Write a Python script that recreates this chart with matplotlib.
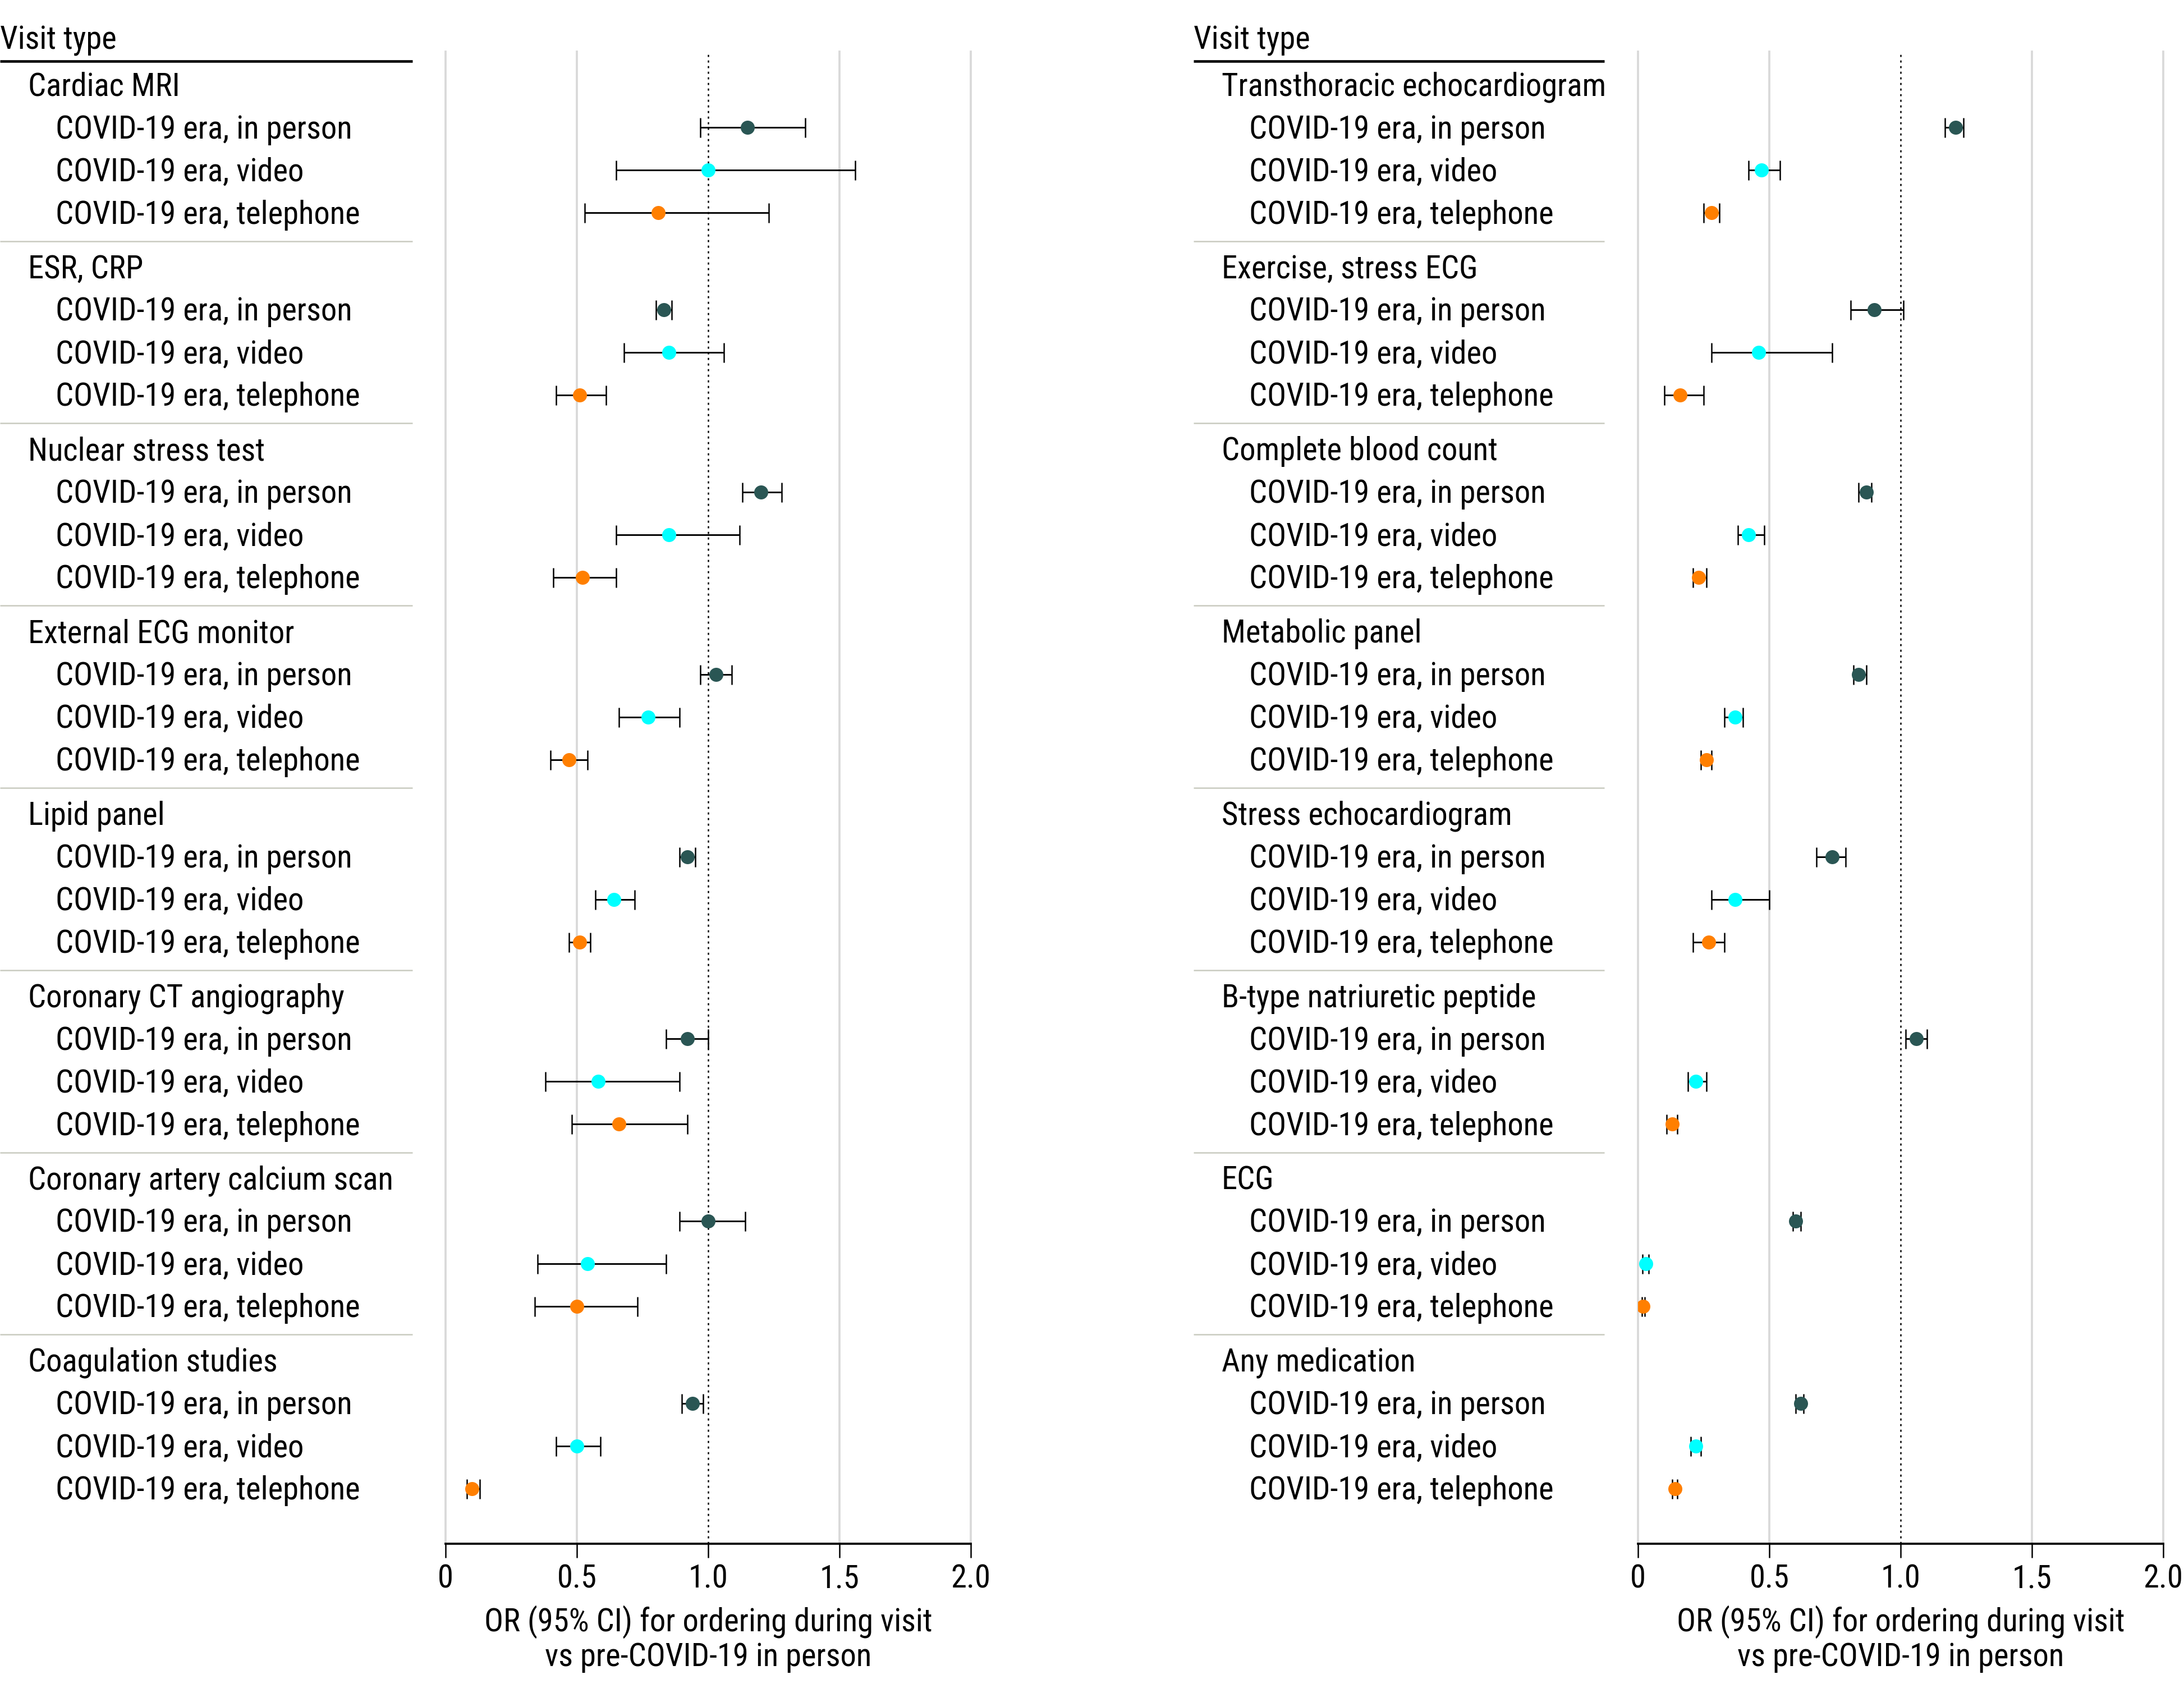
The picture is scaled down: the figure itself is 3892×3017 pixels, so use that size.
import matplotlib
matplotlib.use("Agg")
import matplotlib.pyplot as plt
from matplotlib import font_manager
import numpy as np

# the reference uses a narrow sans; pick the narrowest one that is installed
fonts = font_manager.fontManager.ttflist
names = {f.name for f in fonts}
if "Roboto Condensed" in names:
    plt.rcParams["font.family"] = ["Roboto Condensed", "DejaVu Sans"]
elif "Liberation Sans Narrow" in names:
    plt.rcParams["font.family"] = ["Liberation Sans Narrow", "DejaVu Sans"]
else:
    plt.rcParams["font.family"] = ["DejaVu Sans"]
    if any(f.name == "DejaVu Sans" and f.stretch == "condensed" for f in fonts):
        plt.rcParams["font.stretch"] = "condensed"
plt.rcParams["font.size"] = 13.6

# ---- data (OR, 95% CI) ----
left_groups = ["Cardiac MRI", "ESR, CRP", "Nuclear stress test", "External ECG monitor",
               "Lipid panel", "Coronary CT angiography", "Coronary artery calcium scan",
               "Coagulation studies"]
left_person = [1.15, 0.83, 1.20, 1.03, 0.92, 0.92, 1.00, 0.94]
left_person_lo = [0.97, 0.80, 1.13, 0.97, 0.89, 0.84, 0.89, 0.90]
left_person_hi = [1.37, 0.86, 1.28, 1.09, 0.95, 1.00, 1.14, 0.98]
left_video = [1.00, 0.85, 0.85, 0.77, 0.64, 0.58, 0.54, 0.50]
left_video_lo = [0.65, 0.68, 0.65, 0.66, 0.57, 0.38, 0.35, 0.42]
left_video_hi = [1.56, 1.06, 1.12, 0.89, 0.72, 0.89, 0.84, 0.59]
left_phone = [0.81, 0.51, 0.52, 0.47, 0.51, 0.66, 0.50, 0.10]
left_phone_lo = [0.53, 0.42, 0.41, 0.40, 0.47, 0.48, 0.34, 0.08]
left_phone_hi = [1.23, 0.61, 0.65, 0.54, 0.55, 0.92, 0.73, 0.13]

right_groups = ["Transthoracic echocardiogram", "Exercise, stress ECG", "Complete blood count",
                "Metabolic panel", "Stress echocardiogram", "B-type natriuretic peptide",
                "ECG", "Any medication"]
right_person = [1.21, 0.90, 0.87, 0.84, 0.74, 1.06, 0.60, 0.62]
right_person_lo = [1.17, 0.81, 0.84, 0.82, 0.68, 1.02, 0.59, 0.60]
right_person_hi = [1.24, 1.01, 0.89, 0.87, 0.79, 1.10, 0.62, 0.63]
right_video = [0.47, 0.46, 0.42, 0.37, 0.37, 0.22, 0.03, 0.22]
right_video_lo = [0.42, 0.28, 0.38, 0.33, 0.28, 0.19, 0.018, 0.20]
right_video_hi = [0.54, 0.74, 0.48, 0.40, 0.50, 0.26, 0.041, 0.24]
right_phone = [0.28, 0.16, 0.23, 0.26, 0.27, 0.13, 0.02, 0.14]
right_phone_lo = [0.25, 0.10, 0.21, 0.24, 0.21, 0.11, 0.015, 0.13]
right_phone_hi = [0.31, 0.25, 0.26, 0.28, 0.33, 0.15, 0.026, 0.15]

row_labels = ["COVID-19 era, in person", "COVID-19 era, video", "COVID-19 era, telephone"]
colors = ["#2a5654", "#00ffff", "#ff7f00"]
ticks = [0, 0.5, 1.0, 1.5, 2.0]
tick_labels = ["0", "0.5", "1.0", "1.5", "2.0"]
xlabel = "OR (95% CI) for ordering during visit\nvs pre-COVID-19 in person"

# layout grid in reference pixels (1568 x 1215 view)
W, H = 1568, 1215
TOP, BOT = 37, 1108

fig = plt.figure(figsize=(3892 / 300, 3017 / 300), dpi=300)


def draw_panel(lab_x0, lab_x1, plot_x0, plot_x1, groups, series):
    h = (BOT - TOP) / H
    ax_lab = fig.add_axes([lab_x0 / W, 1 - BOT / H, (lab_x1 - lab_x0) / W, h])
    ax = fig.add_axes([plot_x0 / W, 1 - BOT / H, (plot_x1 - plot_x0) / W, h])
    lw = lab_x1 - lab_x0
    ax_lab.set_xlim(0, lw)
    ax_lab.set_ylim(BOT, TOP)
    ax_lab.axis("off")
    ax.set_ylim(BOT, TOP)

    ax_lab.text(0, 29, "Visit type", ha="left", va="center", clip_on=False)
    ax_lab.plot([0, lw], [44, 44], color="black", lw=1.1, solid_capstyle="butt", clip_on=False)

    for g, name in enumerate(groups):
        hy = 61 + 130.8 * g
        ax_lab.text(20, hy + 1.5, name, ha="left", va="center")
        for k, lab in enumerate(row_labels):
            ax_lab.text(40, hy + 30.6 * (k + 1) + 1.5, lab, ha="left", va="center")
        if g < len(groups) - 1:
            ax_lab.plot([0, lw], [hy + 112, hy + 112], color="#c9cbc0", lw=0.6,
                        solid_capstyle="butt", clip_on=False)

    for x in ticks:
        if x == 1.0:
            ax.axvline(x, color="black", lw=0.6, ls=(0, (1.5, 2.5)), zorder=1)
        else:
            ax.axvline(x, color="#d9d9d9", lw=0.9, zorder=0, clip_on=False)

    for k, (vals, lo, hi) in enumerate(series):
        vals = np.array(vals)
        lo = np.array(lo)
        hi = np.array(hi)
        ys = 61 + 130.8 * np.arange(len(vals)) + 30.6 * (k + 1)
        ax.errorbar(vals, ys, xerr=[vals - lo, hi - vals], fmt="none", ecolor="black",
                    elinewidth=0.7, capsize=4.2, capthick=0.6, zorder=3)
        ax.plot(vals, ys, "o", color=colors[k], markersize=6, markeredgewidth=0, zorder=4)

    ax.set_xlim(0, 2.0)
    ax.set_xticks(ticks)
    ax.set_xticklabels(tick_labels)
    ax.set_yticks([])
    for s in ["left", "right", "top"]:
        ax.spines[s].set_visible(False)
    ax.spines["bottom"].set_linewidth(0.9)
    ax.tick_params(axis="x", direction="out", length=6, width=0.6, pad=2.5)
    ax.set_xlabel(xlabel, labelpad=4.5, linespacing=1.15)
    ax.patch.set_alpha(0)


draw_panel(0, 296, 320, 697, left_groups,
           [(left_person, left_person_lo, left_person_hi),
            (left_video, left_video_lo, left_video_hi),
            (left_phone, left_phone_lo, left_phone_hi)])
draw_panel(857, 1152, 1176, 1553, right_groups,
           [(right_person, right_person_lo, right_person_hi),
            (right_video, right_video_lo, right_video_hi),
            (right_phone, right_phone_lo, right_phone_hi)])

fig.savefig("out.png", dpi=300)
